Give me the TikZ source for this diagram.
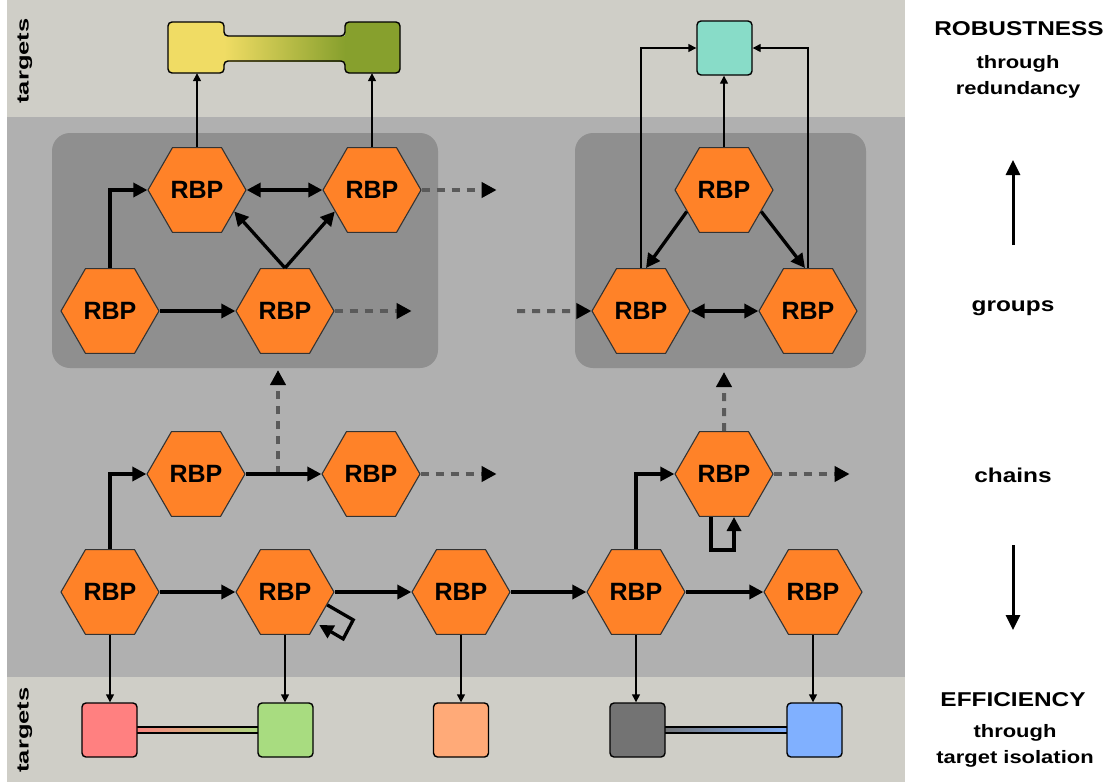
\documentclass[tikz,border=0pt]{standalone}
\usepackage{fontspec}
\setmainfont{Liberation Sans}
\newfontfamily\widef[FakeStretch=1.22]{Liberation Sans}
\newfontfamily\tallf[FakeStretch=1.5]{Liberation Sans}
\usetikzlibrary{arrows.meta,shapes.geometric,calc}
\definecolor{bandlight}{RGB}{207,206,199}
\definecolor{bandmid}{RGB}{176,176,176}
\definecolor{grp}{RGB}{143,143,143}
\definecolor{hexor}{RGB}{255,130,40}
\definecolor{dashg}{RGB}{90,90,90}
\definecolor{yel}{RGB}{240,220,100}
\definecolor{olv}{RGB}{135,160,45}
\definecolor{tealb}{RGB}{136,220,200}
\definecolor{redb}{RGB}{255,128,128}
\definecolor{greenb}{RGB}{168,220,128}
\definecolor{orangeb}{RGB}{255,170,120}
\definecolor{grayb}{RGB}{115,115,115}
\definecolor{blueb}{RGB}{128,176,255}
\begin{document}
\begin{tikzpicture}[x=1pt,y=-1pt,
  hexn/.style={regular polygon, regular polygon sides=6, minimum size=98pt, inner sep=0pt,
    fill=hexor, draw=black!80, line width=1.1pt, font=\fontsize{25}{27}\selectfont\bfseries},
  tfill/.style={rectangle, rounded corners=4pt, minimum width=56pt, minimum height=52pt, inner sep=0pt},
  tbox/.style={tfill, draw=black, line width=1.4pt},
  big/.style={line width=3.3pt, -{Triangle[length=14pt,width=14pt]}},
  dbl/.style={line width=3.3pt, {Triangle[length=14pt,width=14pt]}-{Triangle[length=14pt,width=14pt]}},
  small/.style={line width=1.4pt, -{Triangle[length=8pt,width=8pt]}},
  dsh/.style={line width=4pt, dashg, dash pattern=on 8pt off 7pt, -{Triangle[length=15pt,width=15pt,color=black]}},
  side/.style={line width=3pt, -{Triangle[length=15pt,width=14pt]}},
  head/.style={font=\widef\fontsize{20}{22}\selectfont\bfseries, align=center},
  sub/.style={font=\widef\fontsize{18}{26}\selectfont\bfseries, align=center},
  tgt/.style={font=\tallf\fontsize{17}{20}\selectfont\bfseries, rotate=90}
]
\useasboundingbox (0,0) rectangle (1108,782);
% backgrounds
\fill[bandlight] (7,0) rectangle (905,782);
\fill[bandmid] (7,117) rectangle (905,677);
\fill[grp, rounded corners=18pt] (52,133) rectangle (438,368);
\fill[grp, rounded corners=18pt] (575,133) rectangle (866,368);
\node[tgt] (tgtop) at (25,61) {targets};
\node[tgt] (tgtbot) at (25,730) {targets};

% top targets
\shade[left color=yel, right color=olv] (224,36) rectangle (345,61);
\node[tfill, fill=yel, minimum height=51pt] (T1) at (196,47.5) {};
\node[tfill, fill=olv, minimum height=51pt, minimum width=55pt] (T2) at (372.5,47.5) {};
\draw[line width=1.4pt, rounded corners=4pt] (168,22) -- (224,22) -- (224,36) -- (345,36) -- (345,22) -- (400,22) -- (400,73) -- (345,73) -- (345,61) -- (224,61) -- (224,73) -- (168,73) -- cycle;
\node[tbox, fill=tealb, minimum width=55pt, minimum height=54pt] (T3) at (724.5,48) {};

% bottom targets
\shade[left color=redb, right color=greenb, draw=black, line width=1.2pt] (130,727) rectangle (265,733);
\shade[left color=grayb, right color=blueb, draw=black, line width=1.2pt] (660,727) rectangle (792,733);
\node[tbox, fill=redb, minimum width=55pt, minimum height=54pt] (B1) at (109.5,730) {};
\node[tbox, fill=greenb, minimum width=55pt, minimum height=54pt] (B2) at (285.5,730) {};
\node[tbox, fill=orangeb, minimum width=55pt, minimum height=54pt] (B3) at (461,730) {};
\node[tbox, fill=grayb, minimum width=55pt, minimum height=54pt] (B4) at (637.5,730) {};
\node[tbox, fill=blueb, minimum width=55pt, minimum height=54pt] (B5) at (814.5,730) {};

% hexagons
\node[hexn] (A) at (197,190) {RBP};
\node[hexn] (B) at (372,190) {RBP};
\node[hexn] (G1) at (110,311) {RBP};
\node[hexn] (C) at (285,311) {RBP};
\node[hexn] (R1) at (724,190) {RBP};
\node[hexn] (R2) at (641,311) {RBP};
\node[hexn] (R3) at (808,311) {RBP};
\node[hexn] (C1) at (196,474) {RBP};
\node[hexn] (C2) at (371,474) {RBP};
\node[hexn] (C3) at (724,474) {RBP};
\node[hexn] (H1) at (110,592) {RBP};
\node[hexn] (H2) at (285,592) {RBP};
\node[hexn] (H3) at (461,592) {RBP};
\node[hexn] (H4) at (636,592) {RBP};
\node[hexn] (H5) at (813,592) {RBP};

% thin target arrows
\draw[small] (A.north) -- (A.north |- T1.south);
\draw[small] (B.north) -- (B.north |- T2.south);
\draw[small] (R1.north) -- (R1.north |- T3.south);
\draw[small] (R2.north) |- (T3.west);
\draw[small] (R3.north) |- (T3.east);
\draw[small] (H1.south) -- (H1.south |- B1.north);
\draw[small] (H2.south) -- (H2.south |- B2.north);
\draw[small] (H3.south) -- (H3.south |- B3.north);
\draw[small] (H4.south) -- (H4.south |- B4.north);
\draw[small] (H5.south) -- (H5.south |- B5.north);

% dashed arrows
\coordinate (dvl) at (278,474);
\coordinate (dvlend) at (278,370);
\coordinate (dvrend) at (724,372);
\coordinate (dsR) at (517,311);
\draw[dsh] (dvl) -- (dvlend);
\draw[dsh] (C3.north) -- (dvrend);
\draw[dsh] (B.east) -- ++(75,0) coordinate (eB);
\draw[dsh] (C.east) -- ++(77,0) coordinate (eC);
\draw[dsh] (C2.east) -- ++(76,0) coordinate (eC2);
\draw[dsh] (C3.east) -- ++(76,0) coordinate (eC3);
\draw[dsh] (dsR) -- (R2.west);

% left group
\draw[big] (G1.north) |- (A.west);
\draw[big] (G1.east) -- (C.west);
\draw[dbl] (A.east) -- (B.west);
\draw[big] (C.north) -- (A.-30);
\draw[big] (C.north) -- (B.-150);

% right group
\draw[big] (R1.-150) -- ([xshift=5pt]R2.north);
\draw[big] (R1.-30) -- ([xshift=-3pt]R3.north);
\draw[dbl] (R2.east) -- (R3.west);

% chains
\draw[big] (H1.north) |- (C1.west);
\draw[big] (C1.east) -- (C2.west);
\draw[big] (H4.north) |- (C3.west);
\draw[big] ([xshift=-13pt]C3.south) -- ++(0,33) -| ([xshift=10pt]C3.south);

% bottom row
\draw[big] (H1.east) -- (H2.west);
\draw[big] (H2.east) -- (H3.west);
\draw[big] (H3.east) -- (H4.west);
\draw[big] (H4.east) -- (H5.west);
\draw[big] (H2.-17) -- ++(26,15) -- ++(-10,19) -- ++(-24,-14);

% right side labels
\node[head] (rob) at (1019,29) {ROBUSTNESS};
\node[sub] (rob2) at (1018,77) {through\\redundancy};
\coordinate (upa) at (1013,245);
\coordinate (upb) at (1013,160);
\draw[side] (upa) -- (upb);
\node[head] (grpl) at (1013,308) {groups};
\node[head] (chl) at (1013,475) {chains};
\coordinate (dna) at (1013,545);
\coordinate (dnb) at (1013,630);
\draw[side] (dna) -- (dnb);
\node[head] (eff) at (1013,700) {EFFICIENCY};
\node[sub] (eff2) at (1015,746) {through\\target isolation};
\end{tikzpicture}
\end{document}
